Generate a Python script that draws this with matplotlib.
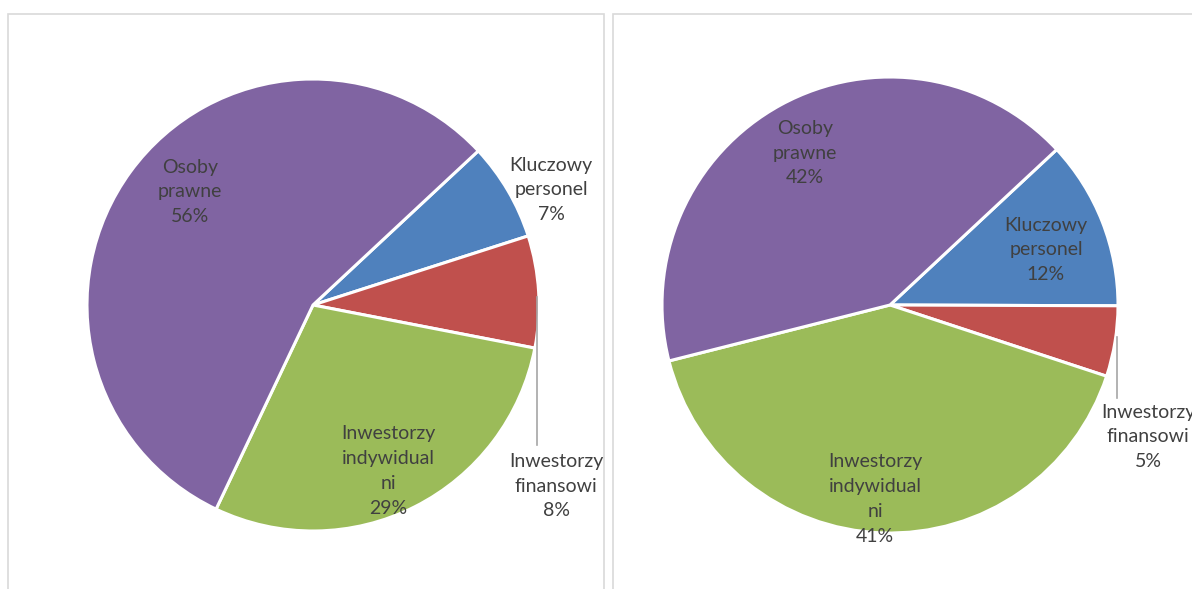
import matplotlib.pyplot as plt
from matplotlib.patches import Rectangle

# Udziały grup inwestorów (w %), dwa okresy
categories = ['Kluczowy\npersonel', 'Inwestorzy\nfinansowi',
              'Inwestorzy\nindywidual\nni', 'Osoby\nprawne']
left_values = [7, 8, 29, 56]
right_values = [12, 5, 41, 42]

colors = ['#4f81bd', '#c0504d', '#9bbb59', '#8064a2']
text_color = '#404040'

W, H = 1192, 589
fig = plt.figure(figsize=(W / 100, H / 100), dpi=100)
ax = fig.add_axes([0, 0, 1, 1])
ax.set_xlim(0, W)
ax.set_ylim(0, H)
ax.set_aspect('equal')
ax.axis('off')

# panel frames
for x0, x1 in [(8, 604), (613, W + 20)]:
    ax.add_patch(Rectangle((x0, -20), x1 - x0, H - 14 + 20, fill=False,
                           edgecolor='#d9d9d9', lw=1.2))

plt.rcParams['font.family'] = ['Lato', 'DejaVu Sans']


def draw_pie(values, center, radius, label_pos, leader):
    ax.pie(values, colors=colors, startangle=43, counterclock=False,
           center=center, radius=radius, frame=True,
           wedgeprops=dict(edgecolor='white', linewidth=2.2))
    for name, v, (x, y) in zip(categories, values, label_pos):
        ax.text(x, H - y, f'{name}\n{v}%', ha='center', va='center',
                fontsize=14, color=text_color, linespacing=1.55)
    lx, ly0, ly1 = leader
    ax.plot([lx, lx], [H - ly0, H - ly1], color='#a6a6a6', lw=1.2)


draw_pie(left_values, (313, H - 305), 226,
         [(551, 190), (556, 486), (388, 471), (190, 192)],
         (537, 297, 445))
draw_pie(right_values, (890, H - 305), 228,
         [(1046, 250), (1148, 437), (875, 499), (805, 153)],
         (1117, 337, 398))

ax.set_xlim(0, W)
ax.set_ylim(0, H)
ax.axis('off')

fig.savefig('out.png', dpi=100)
